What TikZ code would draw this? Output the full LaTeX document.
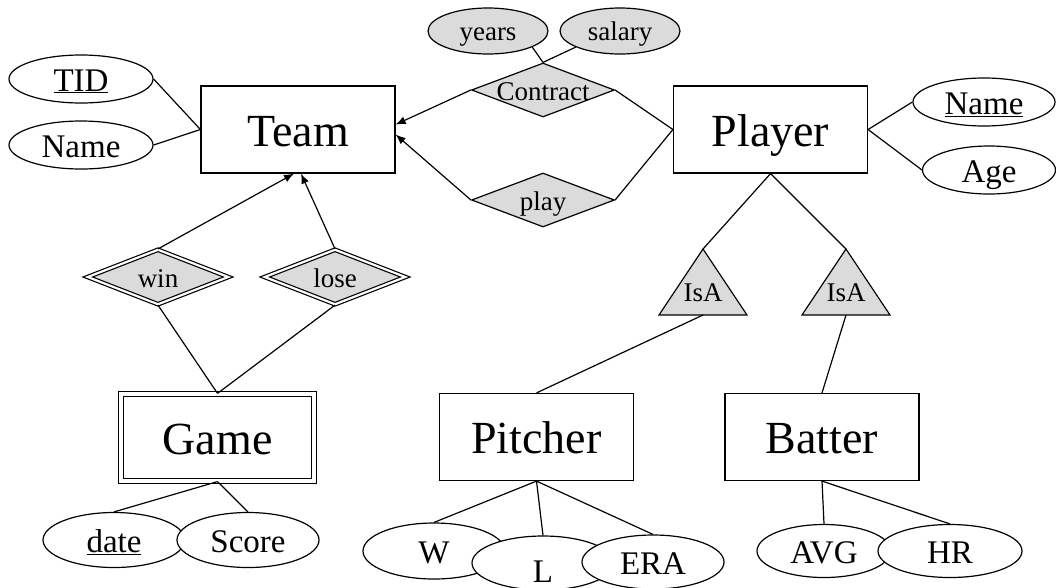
\documentclass[tikz,border=0pt]{standalone}
\usepackage{fontspec}
\setmainfont{Liberation Serif}
\usetikzlibrary{arrows.meta,shapes.geometric,calc}

\begin{document}
\begin{tikzpicture}[x=1pt,y=-1pt,line width=1.2pt,>={Latex[length=10pt,width=8pt]},
  every node/.append style={inner sep=0pt},
  entity/.style={draw,minimum width=194pt,minimum height=87pt,text height=34pt,text depth=1pt,
    font=\fontsize{46}{50}\selectfont},
  weakentity/.style={entity,double,double distance=3.4pt,minimum width=193pt},
  attr/.style={draw,ellipse,fill=white,minimum width=142pt,minimum height=48pt,text height=24pt,text depth=0pt,
    font=\fontsize{33}{36}\selectfont},
  relattr/.style={attr,fill=black!14,minimum width=120pt,minimum height=46pt,text height=18pt,
    font=\fontsize{27}{30}\selectfont},
  rel/.style={draw,diamond,fill=black!14,minimum width=143pt,minimum height=54pt,text height=20pt,text depth=0pt,
    font=\fontsize{27}{30}\selectfont},
  weakrel/.style={rel,double,double distance=2.2pt,minimum width=141pt,minimum height=55pt},
  isa/.style={draw,fill=black!14,line join=miter}]
  \useasboundingbox (0,0) rectangle (1056,587);

  % entity sets
  \node[entity] (team) at (298,129.5) {Team};
  \node[entity] (player) at (770.5,129.5) {Player};
  \node[weakentity] (game) at (217.5,437.5) {Game};
  \node[entity] (pitcher) at (536.5,437) {Pitcher};
  \node[entity] (batter) at (822,437) {Batter};

  % relationship sets
  \node[rel] (contract) at (543,90) {\makebox[0pt]{Contract}};
  \node[rel] (play) at (543,200) {\makebox[0pt]{play}};
  \node[weakrel] (win) at (158,277) {\makebox[0pt]{win}};
  \node[weakrel] (lose) at (335,277) {\makebox[0pt]{lose}};
  \node[relattr] (years) at (488,31) {years};
  \node[relattr] (salary) at (620,31) {salary};

  % attributes
  \node[attr,minimum width=144pt] (tid) at (81,79) {\underline{TID}};
  \node[attr,minimum width=144pt] (tname) at (81,145) {Name};
  \node[attr] (pname) at (984,102) {\underline{Name}};
  \node[attr,minimum width=133pt] (age) at (989,170) {Age};
  \node[attr,minimum height=55pt] (date) at (114,540) {\underline{date}};
  \node[attr,minimum height=55pt] (score) at (248,540) {Score};
  \node[attr,minimum height=56pt] (w) at (434,551) {W};
  \node[attr,minimum height=54pt] (l) at (543,563) {\raisebox{-7pt}{L}};
  \node[attr,minimum height=54pt] (era) at (653,562) {ERA};
  \node[attr,minimum width=134pt,minimum height=53pt] (avg) at (824,551) {AVG};
  \node[attr,minimum width=144pt,minimum height=53pt] (hr) at (950,551) {HR};

  % IsA triangles
  \foreach \t/\x in {isap/703,isab/846} {
    \draw[isa] (\x,249) coordinate (\t-top) -- (\x+44,315) -- (\x-44,315) -- cycle;
    \coordinate (\t-base) at (\x,315);
    \node[font=\fontsize{27}{30}\selectfont] (\t) at (\x,293) {IsA};
  }

  % connectors
  \foreach \u/\v in {tid.east/team.west,tname.east/team.west,
      pname.west/player.east,age.west/player.east,
      years.-20/contract.north,salary.200/contract.north,
      player.west/contract.east,player.west/play.east,
      win.south/game.north,lose.south/game.north,
      game.south/date.north,game.south/score.north,
      pitcher.south/w.north,pitcher.south/l.north,pitcher.south/era.north,
      batter.south/avg.north,batter.south/hr.north,
      player.south/isap-top,player.south/isab-top,
      isap-base/pitcher.north,isab-base/batter.north}
    \draw (\u) -- (\v);

  \draw[->] (contract.west) -- ($(team.east)+(0,-5)$);
  \draw[->] (play.west) -- ($(team.east)+(0,5)$);
  \draw[->] (win.north) -- ($(team.south)+(-4,0)$);
  \draw[->] (lose.north) -- ($(team.south)+(3,0)$);
\end{tikzpicture}
\end{document}
